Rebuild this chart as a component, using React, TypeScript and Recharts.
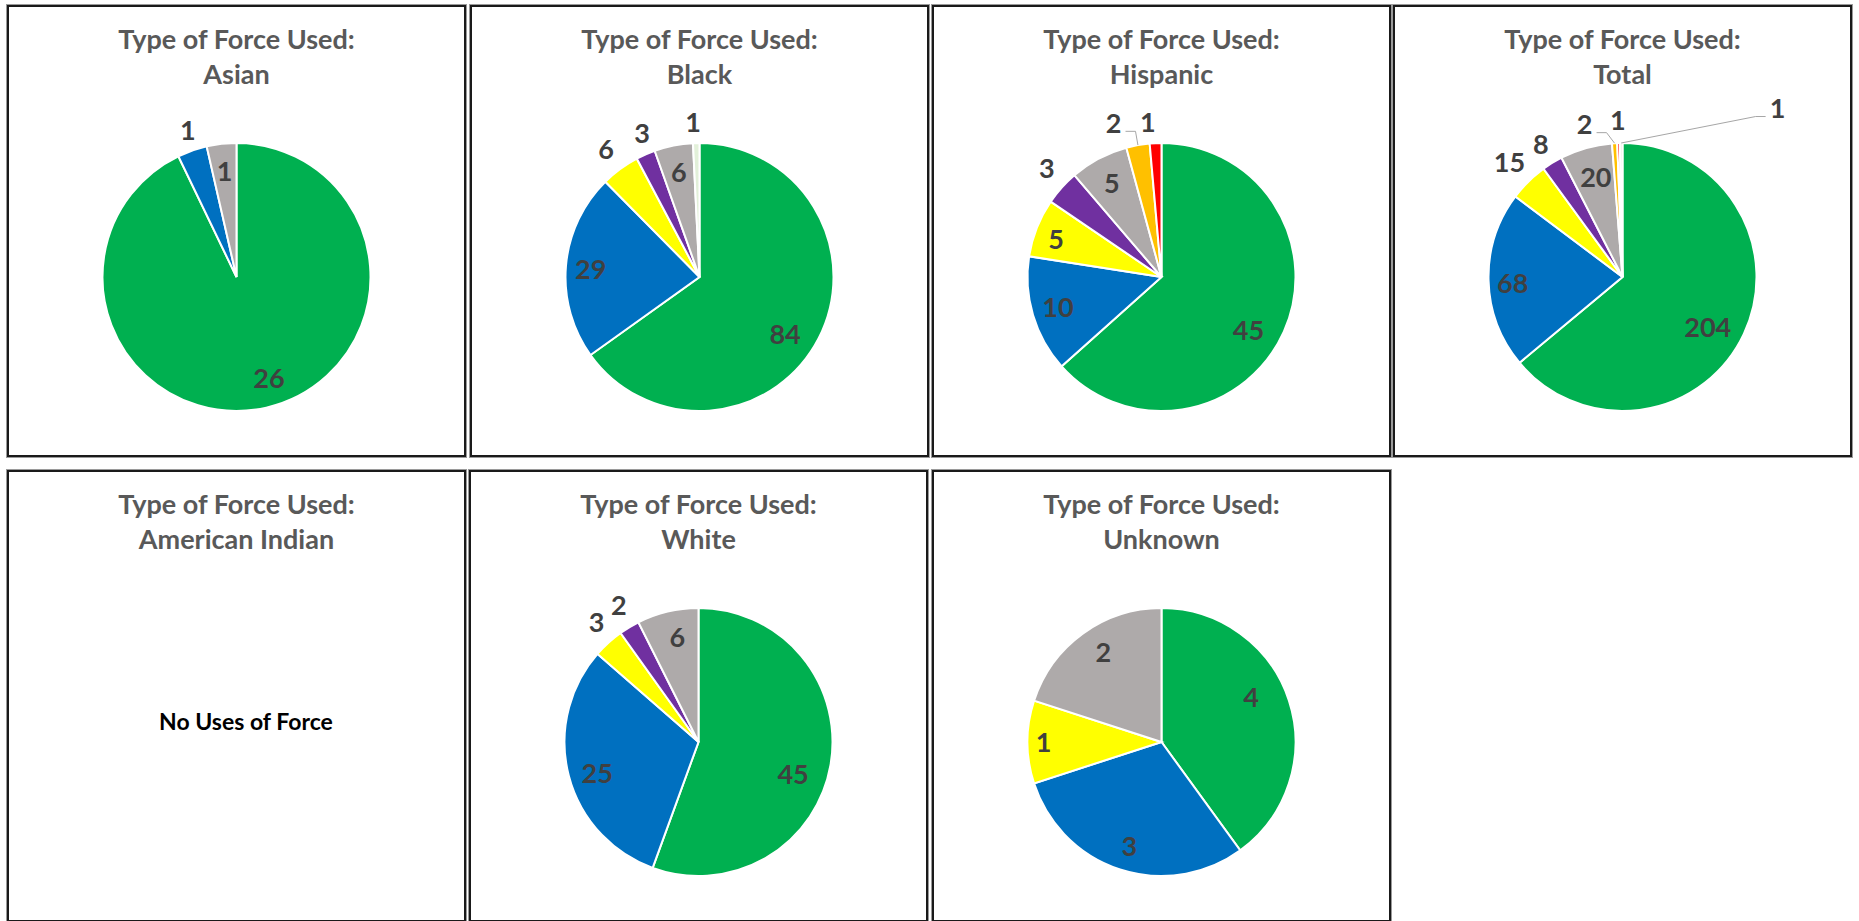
import React from 'react';
import { Cell, Pie, PieChart } from 'recharts';

// force type categories (no legend shown in the source, so names are generic)
const forceTypes = ['Type 1', 'Type 2', 'Type 3', 'Type 4', 'Type 5', 'Type 6', 'Type 7', 'Type 8'];
const sliceColors = ['#00B050', '#0070C0', '#FFFF00', '#7030A0', '#AEAAAA', '#FFC000', '#FF0000', '#E2F0D9'];

const asianValues = [26, 1, 0, 0, 1, 0, 0, 0];
const blackValues = [84, 29, 6, 3, 6, 0, 0, 1];
const hispanicValues = [45, 10, 5, 3, 5, 2, 1, 0];
const totalValues = [204, 68, 15, 8, 20, 2, 1, 1];
const americanIndianValues = [0, 0, 0, 0, 0, 0, 0, 0];
const whiteValues = [45, 25, 3, 2, 6, 0, 0, 0];
const unknownValues = [4, 3, 1, 0, 2, 0, 0, 0];

// label placement per category: [mode, distance from centre, angle shift clockwise]
type Spec = ['in' | 'out' | 'leader', number, number] | null;
const asianLabels: Spec[] = [['in', 106, -5], ['out', 155, 1], null, null, ['in', 106, 0], null, null, null];
const blackLabels: Spec[] = [['in', 103, 6.6], ['in', 109, -1], ['out', 158, 0], ['out', 155, 2], ['in', 107, 0], null, null, ['out', 155, -1]];
const hispanicLabels: Spec[] = [['in', 102, 7.4], ['in', 108, 0], ['in', 112, -1.7], ['out', 158, 1.6], ['in', 106, 0], ['leader', 161, -7.2], ['out', 155, -2.5], null];
const totalLabels: Spec[] = [['in', 99, 5.4], ['in', 110, -1.7], ['out', 161, 0], ['out', 156, 0], ['in', 103, 0.8], ['leader', 157, -10.6], ['out', 157, 0], ['leader', 229, 43.2]];
const whiteLabels: Spec[] = [['in', 100, 9], ['in', 106, -2.6], ['out', 157, 1.8], ['out', 158, 0.8], ['in', 107, 1.9], null, null, null];
const unknownLabels: Spec[] = [['in', 100, -8.4], ['in', 109, -0.8], ['in', 118, 0], null, ['in', 107, 3], null, null, null];

const panels = [
  { group: 'Asian', values: asianValues, labels: asianLabels, left: 7, top: 5 },
  { group: 'Black', values: blackValues, labels: blackLabels, left: 470, top: 5 },
  { group: 'Hispanic', values: hispanicValues, labels: hispanicLabels, left: 932, top: 5 },
  { group: 'Total', values: totalValues, labels: totalLabels, left: 1393, top: 5 },
  { group: 'American Indian', values: americanIndianValues, labels: [] as Spec[], left: 7, top: 470 },
  { group: 'White', values: whiteValues, labels: whiteLabels, left: 469, top: 470 },
  { group: 'Unknown', values: unknownValues, labels: unknownLabels, left: 932, top: 470 },
];

const W = 459;
const H = 452;
const FONT = 'Lato, "Open Sans", sans-serif';
const RAD = Math.PI / 180;
const LABEL_SIZE = 27;

const ForcePanel = ({ group, values, labels, left, top }: (typeof panels)[number]) => {
  const data = values
    .map((v, i) => ({ name: forceTypes[i], value: v, color: sliceColors[i], spec: labels[i] }))
    .filter((d) => d.value > 0);

  const renderLabel = (props: any) => {
    const { cx, cy, midAngle, outerRadius, index, value } = props;
    const spec = data[index]?.spec;
    if (!spec) return null;
    const [mode, dist, shift] = spec;
    const a = midAngle - shift;
    const x = cx + dist * Math.cos(-a * RAD);
    const y = cy + dist * Math.sin(-a * RAD);
    let line = null;
    if (mode === 'leader') {
      const ex = cx + outerRadius * Math.cos(-midAngle * RAD);
      const ey = cy + outerRadius * Math.sin(-midAngle * RAD);
      const side = ex > x ? 1 : -1;
      line = (
        <path
          d={`M${x + side * 12},${y + 8} L${x + side * 22},${y + 8} L${ex},${ey}`}
          stroke="#A6A6A6"
          strokeWidth={1}
          fill="none"
        />
      );
    }
    return (
      <g>
        {line}
        <text x={x} y={y + LABEL_SIZE * 0.36} textAnchor="middle" fill="#404040" fontSize={LABEL_SIZE} fontWeight={700} fontFamily={FONT}>
          {value}
        </text>
      </g>
    );
  };

  return (
    <div
      style={{
        position: 'absolute',
        left,
        top,
        width: W,
        height: H,
        boxSizing: 'border-box',
        border: '2px solid #1a1a1a',
        boxShadow: '0 0 0 1px #9a9a9a',
        background: '#fff',
      }}
    >
      <div
        style={{
          position: 'absolute',
          left: 0,
          right: 0,
          top: 13.5,
          textAlign: 'center',
          lineHeight: '35px',
          fontSize: 27,
          fontWeight: 700,
          color: '#595959',
          fontFamily: FONT,
          zIndex: 2,
        }}
      >
        <div>Type of Force Used:</div>
        <div>{group}</div>
      </div>
      {data.length === 0 ? (
        <div
          style={{
            position: 'absolute',
            left: 19,
            right: 0,
            top: 235,
            textAlign: 'center',
            lineHeight: '28px',
            fontSize: 23,
            fontWeight: 700,
            color: '#000',
            fontFamily: FONT,
          }}
        >
          No Uses of Force
        </div>
      ) : (
        <PieChart width={W - 4} height={H - 4} margin={{ top: 0, right: 0, bottom: 0, left: 0 }}>
          <Pie
            data={data}
            dataKey="value"
            nameKey="name"
            cx="50%"
            cy={270}
            outerRadius={134}
            startAngle={90}
            endAngle={-270}
            stroke="#fff"
            strokeWidth={2}
            labelLine={false}
            label={renderLabel}
            isAnimationActive={false}
          >
            {data.map((d) => (
              <Cell key={d.name} fill={d.color} />
            ))}
          </Pie>
        </PieChart>
      )}
    </div>
  );
};

export default function App() {
  return (
    <div style={{ position: 'absolute', left: 0, top: 0, width: 1859, height: 921, overflow: 'hidden', background: '#fff' }}>
      {panels.map((p) => (
        <ForcePanel key={p.group} {...p} />
      ))}
    </div>
  );
}
